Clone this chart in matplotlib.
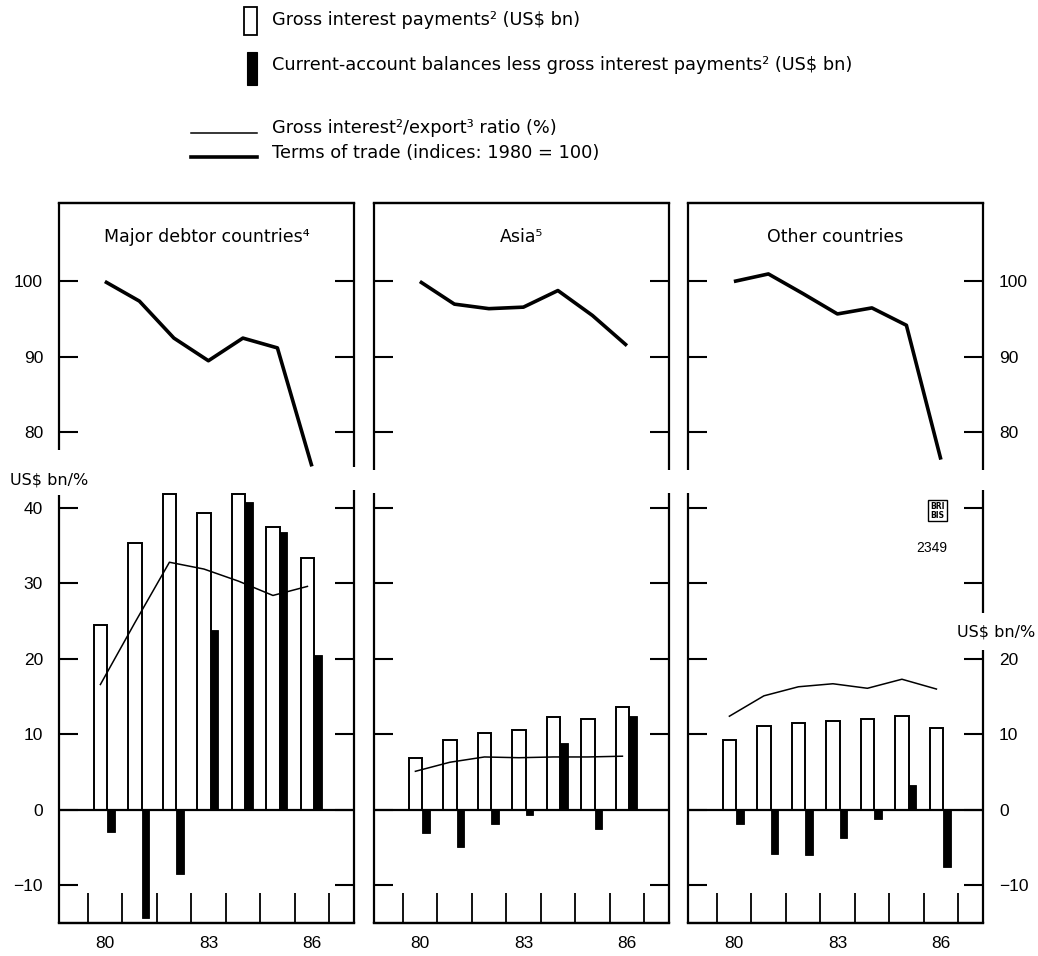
import matplotlib
matplotlib.use("Agg")
import matplotlib.pyplot as plt
import numpy as np
from matplotlib.patches import Rectangle

# ---------------- data ----------------
years = [80, 81, 82, 83, 84, 85, 86]
year_labels = ["80", "83", "86"]
panel_titles = ["Major debtor countries⁴", "Asia⁵", "Other countries"]

interest_major = [24.5, 35.4, 41.9, 39.3, 41.8, 37.5, 33.4]
ca_less_major = [-3.0, -14.4, -8.5, 23.8, 40.8, 36.8, 20.5]
ratio_major = [16.6, 24.8, 32.8, 31.9, 30.3, 28.4, 29.6]
tot_major = [100.0, 97.4, 92.5, 89.5, 92.5, 91.2, 75.5]

interest_asia = [6.9, 9.2, 10.2, 10.6, 12.3, 12.0, 13.6]
ca_less_asia = [-3.1, -4.9, -1.9, -0.7, 8.9, -2.5, 12.4]
ratio_asia = [5.1, 6.3, 7.0, 6.9, 7.0, 7.0, 7.1]
tot_asia = [100.0, 97.0, 96.4, 96.6, 98.8, 95.5, 91.5]

interest_other = [9.3, 11.1, 11.5, 11.8, 12.0, 12.4, 10.8]
ca_less_other = [-1.9, -5.8, -6.0, -3.8, -1.2, 3.3, -7.6]
ratio_other = [12.4, 15.1, 16.3, 16.7, 16.1, 17.3, 16.0]
tot_other = [100.0, 101.0, 98.4, 95.7, 96.5, 94.2, 76.4]

bar_ticks = [-10, 0, 10, 20, 30, 40]
tot_ticks = [80, 90, 100]

legend_labels = [
    "Gross interest payments² (US$ bn)",
    "Current-account balances less gross interest payments² (US$ bn)",
    "Gross interest²/export³ ratio (%)",
    "Terms of trade (indices: 1980 = 100)",
]

series = [
    (interest_major, ca_less_major, ratio_major, tot_major),
    (interest_asia, ca_less_asia, ratio_asia, tot_asia),
    (interest_other, ca_less_other, ratio_other, tot_other),
]

# ---------------- layout ----------------
W, H = 1038, 956
fig = plt.figure(figsize=(W / 100, H / 100), dpi=100)
plt.rcParams["font.family"] = ["DejaVu Sans"]

FS = 12.5
NUMFONT = "Liberation Sans"
YLO, YHI = -15.0, 80.4
TOT_OFF = 30.0
lefts_px = [59, 374, 688]
pw = 295
bottom_px, top_px = 923, 203

# spine segments (bar-units) for left and right sides of each panel
spine_segments = [
    ([(YHI, 47.7), (41.7, YLO)], [(YHI, 45.4), (42.4, YLO)]),
    ([(YHI, 45.0), (42.0, YLO)], [(YHI, 45.0), (42.0, YLO)]),
    ([(YHI, 45.0), (42.0, YLO)], [(YHI, 45.0), (42.4, 26.1), (21.2, YLO)]),
]

yrs = np.array(years, dtype=float)

for i, (interest, caless, ratio, tot) in enumerate(series):
    rect = [lefts_px[i] / W, 1 - bottom_px / H, pw / W, (bottom_px - top_px) / H]
    ax = fig.add_axes(rect)
    ax.set_xlim(78.67, 87.22)
    ax.set_ylim(YLO, YHI)

    ax.bar(yrs - 0.13, interest, width=0.40, facecolor="white",
           edgecolor="black", linewidth=1.4, zorder=2)
    ax.bar(yrs + 0.18, caless, width=0.22, facecolor="black",
           edgecolor="black", linewidth=0.6, zorder=3)
    ax.axhline(0, color="black", linewidth=1.6, zorder=4)
    ax.plot(yrs - 0.13, ratio, color="black", linewidth=1.1, zorder=5)

    ax2 = ax.twinx()
    ax2.set_ylim(YLO + TOT_OFF, YHI + TOT_OFF)
    ax2.plot(yrs, tot, color="black", linewidth=2.6, zorder=5,
             solid_capstyle="butt")

    for a in (ax, ax2):
        for s in ("left", "right"):
            a.spines[s].set_visible(False)
        for s in ("top", "bottom"):
            a.spines[s].set_linewidth(1.6)

    # broken side frames
    for side_x, segs in zip((0, 1), spine_segments[i]):
        for (y0, y1) in segs:
            ax.plot([side_x, side_x], [y0, y1], color="black", linewidth=1.6,
                    transform=ax.get_yaxis_transform(), clip_on=False,
                    solid_capstyle="butt", zorder=6)

    # y ticks
    ax.set_yticks(bar_ticks)
    ax2.set_yticks(tot_ticks)
    for a in (ax, ax2):
        a.tick_params(axis="y", direction="in", length=13.5, width=1.5,
                      left=True, right=True, labelleft=(i == 0),
                      labelright=(i == 2), labelsize=FS, pad=11.5)
    if i == 2:
        ax.set_yticklabels(["\u221210", "0", "10", "20", "", ""])
    else:
        ax.set_yticklabels(["\u221210", "0", "10", "20", "30", "40"])
    ax2.set_yticklabels([str(t) for t in tot_ticks])
    for a in (ax, ax2):
        for lab in a.get_yticklabels():
            lab.set_fontfamily(NUMFONT)

    # x ticks: boundaries as upward ticks, labels at year centres
    ax.set_xticks(np.arange(years[0] - 0.5, years[-1] + 0.51, 1.0))
    ax.set_xticklabels([])
    ax.tick_params(axis="x", which="major", direction="in", length=21.5,
                   width=1.3)
    ax.set_xticks([float(l) for l in year_labels], minor=True)
    ax.set_xticklabels(year_labels, minor=True, fontfamily=NUMFONT)
    ax.tick_params(axis="x", which="minor", length=0, pad=9, labelsize=FS)

    ax.text(0.5, 75.9, panel_titles[i], transform=ax.get_yaxis_transform(),
            ha="center", va="center", fontsize=FS)

    if i == 0:
        ax.text(-0.034, 43.7, "US$ bn/%", transform=ax.get_yaxis_transform(),
                ha="center", va="center", fontsize=11.5)
    if i == 2:
        ax.text(1.044, 23.6, "US$ bn/%", transform=ax.get_yaxis_transform(),
                ha="center", va="center", fontsize=11.5)
        ax.text(0.846, 39.6, "BRI\nBIS", transform=ax.get_yaxis_transform(),
                ha="center", va="center", fontsize=5.5, fontweight="bold",
                linespacing=0.9,
                bbox=dict(boxstyle="square,pad=0.25", fc="white", ec="black",
                          lw=1.0))
        ax.text(0.827, 34.7, "2349", transform=ax.get_yaxis_transform(),
                ha="center", va="center", fontsize=10, fontfamily=NUMFONT)

# ---------------- legend (drawn in pixel space) ----------------
lax = fig.add_axes([0, 0, 1, 1])
lax.set_xlim(0, W)
lax.set_ylim(H, 0)
lax.axis("off")
lax.add_patch(Rectangle((244, 7), 13, 28, facecolor="white",
                        edgecolor="black", linewidth=1.3))
lax.add_patch(Rectangle((247, 52), 10, 33, facecolor="black",
                        edgecolor="black", linewidth=0.8))
lax.plot([191, 257], [133, 133], color="black", linewidth=1.1)
lax.plot([191, 257], [157, 157], color="black", linewidth=2.6)
for ty, lab in zip([20, 65, 128, 153], legend_labels):
    lax.text(272, ty, lab, ha="left", va="center", fontsize=12.8)

fig.savefig("out.png", dpi=100)
